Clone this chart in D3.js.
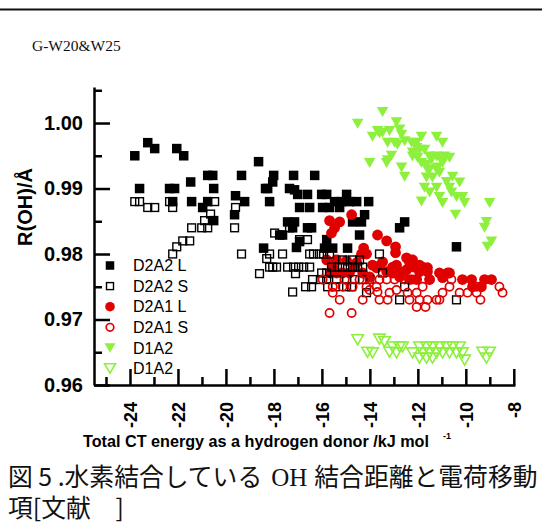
<!DOCTYPE html>
<html>
<head>
<meta charset="utf-8">
<script src="https://cdn.jsdelivr.net/npm/d3@7/dist/d3.min.js"></script>
<style>
  html, body { margin: 0; padding: 0; background: #fff; }
  svg { display: block; }
</style>
</head>
<body>
<svg id="chart" width="542" height="529"></svg>
<script>
// ---- data: [total CT energy (kJ/mol), R(OH) (Å)] ----
const d2a2L = [
  [-23.80,0.9950],[-23.26,0.9970],[-22.97,0.9961],[-22.05,0.9961],[-21.76,0.9950],[-18.64,0.9941],
  [-20.76,0.9920],[-20.55,0.9920],[-19.35,0.9920],[-21.47,0.9910],[-23.60,0.9900],[-22.35,0.9900],
  [-22.14,0.9900],[-20.51,0.9900],[-18.35,0.9900],[-22.22,0.9880],[-21.43,0.9880],[-20.76,0.9880],
  [-19.60,0.9889],[-19.22,0.9880],[-20.97,0.9871],[-19.64,0.9860],[-20.51,0.9851],[-18.43,0.9809],
  [-18.18,0.9880],[-18.01,0.9920],[-17.18,0.9920],[-16.30,0.9920],[-18.05,0.9910],[-18.26,0.9900],
  [-17.35,0.9900],[-17.14,0.9898],[-17.01,0.9891],[-16.60,0.9891],[-16.01,0.9891],[-15.80,0.9891],
  [-14.97,0.9891],[-15.47,0.9880],[-15.18,0.9880],[-14.85,0.9880],[-14.55,0.9880],[-14.05,0.9880],
  [-16.93,0.9871],[-16.51,0.9871],[-15.97,0.9871],[-15.68,0.9871],[-15.26,0.9871],[-14.22,0.9860],
  [-14.72,0.9849],[-14.35,0.9849],[-17.43,0.9849],[-17.14,0.9849],[-16.60,0.9840],[-16.43,0.9840],
  [-12.55,0.9849],[-12.76,0.9840],[-14.43,0.9829],[-17.64,0.9829],[-16.93,0.9819],[-17.06,0.9810],
  [-15.89,0.9809],[-15.55,0.9809],[-14.93,0.9809],[-10.39,0.9811],[-15.80,0.9822],[-17.22,0.9840],
  [-17.76,0.9829]
];
const d2a2S = [
  [-23.80,0.9880],[-23.60,0.9880],[-23.26,0.9871],[-22.97,0.9871],[-22.35,0.9880],[-22.22,0.9871],
  [-20.47,0.9880],[-20.64,0.9861],[-20.89,0.9851],[-21.43,0.9840],[-21.01,0.9840],[-20.76,0.9840],
  [-19.64,0.9840],[-19.60,0.9871],[-21.80,0.9820],[-21.51,0.9820],[-22.05,0.9811],[-22.22,0.9800],
  [-19.35,0.9800],[-18.30,0.9793],[-18.60,0.9770],[-17.97,0.9832],[-17.64,0.9800],[-18.18,0.9800],
  [-18.18,0.9780],[-18.05,0.9780],[-17.89,0.9780],[-17.43,0.9780],[-17.18,0.9780],[-16.97,0.9780],
  [-16.76,0.9780],[-16.51,0.9780],[-17.10,0.9770],[-16.93,0.9822],[-16.60,0.9822],[-16.51,0.9800],
  [-16.35,0.9800],[-16.10,0.9800],[-15.93,0.9800],[-15.68,0.9800],[-17.35,0.9840],[-15.14,0.9791],
  [-14.72,0.9791],[-14.43,0.9791],[-16.39,0.9761],[-16.05,0.9761],[-15.80,0.9761],[-15.39,0.9761],
  [-16.68,0.9750],[-16.43,0.9750],[-17.22,0.9742],[-16.01,0.9771],[-15.80,0.9771],[-15.60,0.9780],
  [-15.35,0.9780],[-15.14,0.9780],[-14.93,0.9780],[-14.72,0.9780],[-14.51,0.9780],[-14.30,0.9780],
  [-13.60,0.9800],[-13.47,0.9771],[-15.76,0.9750],[-15.43,0.9750],[-14.97,0.9750],[-14.76,0.9750],
  [-14.97,0.9761],[-14.64,0.9761],[-14.30,0.9761],[-14.01,0.9761],[-14.14,0.9741],[-12.55,0.9750],
  [-12.76,0.9730],[-10.39,0.9730]
];
const d2a1L = [
  [-14.76,0.9860],[-15.68,0.9851],[-15.26,0.9849],[-15.60,0.9832],[-15.47,0.9840],[-13.68,0.9829],
  [-13.30,0.9820],[-12.93,0.9811],[-14.26,0.9809],[-14.14,0.9800],[-12.47,0.9794],[-12.93,0.9802],
  [-14.35,0.9800],[-13.47,0.9788],[-13.05,0.9780],[-12.35,0.9788],[-15.80,0.9791],[-15.39,0.9791],
  [-14.97,0.9790],[-15.55,0.9780],[-14.64,0.9780],[-13.72,0.9779],[-13.30,0.9773],[-12.76,0.9773],
  [-12.47,0.9776],[-12.14,0.9780],[-11.80,0.9780],[-11.60,0.9779],[-11.51,0.9761],[-11.10,0.9771],
  [-10.76,0.9771],[-10.14,0.9761],[-9.76,0.9761],[-9.35,0.9750],[-9.22,0.9761],[-8.93,0.9761],
  [-10.97,0.9764],[-13.89,0.9783],[-14.55,0.9787],[-13.60,0.9782],[-12.89,0.9783],[-12.22,0.9791],
  [-11.93,0.9783],[-11.93,0.9773],[-11.60,0.9773],[-10.68,0.9771],[-9.72,0.9750],[-15.14,0.9771],
  [-14.85,0.9771],[-14.30,0.9771],[-14.01,0.9765],[-13.05,0.9771],[-12.76,0.9765],[-12.35,0.9761],
  [-12.05,0.9761],[-15.64,0.9771],[-15.39,0.9771]
];
const d2a1S = [
  [-15.55,0.9741],[-15.26,0.9730],[-15.68,0.9710],[-14.76,0.9710],[-14.30,0.9730],[-14.01,0.9745],
  [-13.68,0.9742],[-13.60,0.9730],[-13.26,0.9730],[-12.89,0.9745],[-13.18,0.9741],[-12.97,0.9761],
  [-12.55,0.9761],[-12.22,0.9761],[-12.05,0.9719],[-11.68,0.9719],[-12.35,0.9730],[-11.93,0.9730],
  [-11.60,0.9730],[-11.22,0.9730],[-12.05,0.9741],[-11.80,0.9750],[-10.97,0.9741],[-10.68,0.9750],
  [-10.26,0.9741],[-9.93,0.9741],[-9.55,0.9741],[-9.55,0.9750],[-9.39,0.9730],[-8.60,0.9750],
  [-8.47,0.9741],[-14.01,0.9761],[-13.60,0.9761],[-13.30,0.9761],[-14.43,0.9761],[-14.14,0.9750],
  [-13.72,0.9750],[-15.14,0.9750],[-14.72,0.9750],[-15.05,0.9761],[-15.55,0.9750],[-15.97,0.9761],
  [-12.43,0.9741],[-10.60,0.9761],[-11.51,0.9761],[-11.10,0.9730]
];
const d1a2L = [
  [-13.47,1.0017],[-14.51,0.9999],[-12.89,1.0001],[-13.68,0.9988],[-13.18,0.9988],[-12.76,0.9990],
  [-13.89,0.9979],[-12.68,0.9982],[-12.55,0.9972],[-13.26,0.9970],[-12.97,0.9970],[-12.85,0.9967],
  [-11.85,0.9979],[-11.22,0.9979],[-12.26,0.9970],[-12.05,0.9970],[-10.97,0.9970],[-13.10,0.9950],
  [-14.01,0.9939],[-13.30,0.9939],[-12.68,0.9932],[-12.55,0.9918],[-12.22,0.9955],[-12.01,0.9947],
  [-11.85,0.9939],[-11.64,0.9936],[-11.93,0.9959],[-11.72,0.9959],[-11.51,0.9949],[-11.22,0.9949],
  [-10.89,0.9949],[-10.68,0.9947],[-11.51,0.9929],[-11.22,0.9929],[-10.97,0.9939],[-11.64,0.9917],
  [-11.39,0.9917],[-11.10,0.9924],[-10.55,0.9918],[-10.26,0.9909],[-10.80,0.9910],[-10.68,0.9901],
  [-11.72,0.9901],[-11.51,0.9894],[-11.22,0.9901],[-10.60,0.9894],[-10.39,0.9887],[-11.85,0.9880],
  [-10.97,0.9878],[-10.14,0.9887],[-10.05,0.9878],[-10.43,0.9860],[-9.01,0.9878],[-9.14,0.9849],
  [-9.22,0.9840],[-8.93,0.9819],[-9.10,0.9811],[-11.10,0.9887],[-13.47,0.9985],[-13.60,0.9984],
  [-13.26,0.9943],[-12.05,0.9962],[-11.43,0.9944],[-11.01,0.9944],[-11.18,0.9932],[-12.22,0.9949],
  [-11.60,0.9929]
];
const d1a2S = [
  [-14.51,0.9669],[-13.60,0.9670],[-13.39,0.9666],[-13.89,0.9649],[-14.10,0.9650],[-13.18,0.9650],
  [-13.05,0.9658],[-12.76,0.9658],[-12.64,0.9658],[-12.89,0.9649],[-12.22,0.9649],[-11.93,0.9658],
  [-11.64,0.9658],[-11.39,0.9658],[-11.10,0.9658],[-10.80,0.9658],[-10.55,0.9658],[-10.26,0.9658],
  [-11.93,0.9641],[-11.64,0.9641],[-11.39,0.9641],[-11.80,0.9649],[-11.51,0.9649],[-11.22,0.9649],
  [-10.97,0.9649],[-10.68,0.9649],[-10.39,0.9649],[-10.14,0.9649],[-10.05,0.9638],[-9.30,0.9650],
  [-9.01,0.9650],[-9.14,0.9641]
];

const legendLabels = ["D2A2 L", "D2A2 S", "D2A1 L", "D2A1 S", "D1A2", "D1A2"];
const xMajorTicks = [-24, -22, -20, -18, -16, -14, -12, -10, -8];
const xMinorTicks = [-25, -23, -21, -19, -17, -15, -13, -11, -9];
const yMajorTicks = [0.96, 0.97, 0.98, 0.99, 1.00];
const yMinorTicks = [0.965, 0.975, 0.985, 0.995, 1.005];

const RED = "#e00000";
const GREEN = "#8cf03c";
const SANS = "'Liberation Sans', Arial, Helvetica, sans-serif";
const SERIF = "'Liberation Serif', 'Times New Roman', serif";
const CJK = "'Noto Sans CJK JP', 'Noto Sans CJK SC', sans-serif";

const svg = d3.select("#chart");

// header rule and panel label
svg.append("line").attr("x1", 0).attr("x2", 542).attr("y1", 9.5).attr("y2", 9.5)
  .attr("stroke", "#111").attr("stroke-width", 2);
svg.append("text").attr("x", 32).attr("y", 50.5)
  .style("font-family", SERIF).style("font-size", "15.5px").attr("fill", "#111")
  .text("G-W20&W25");

// scales
const x = d3.scaleLinear().domain([-25.5, -7.95]).range([94, 515]);
const y = d3.scaleLinear().domain([0.96, 1.0055]).range([385, 87]);

// marker shapes
const shapes = {
  fsq: (g, cx, cy, s = 9.5) => g.append("rect").attr("x", cx - s/2).attr("y", cy - s/2)
      .attr("width", s).attr("height", s).attr("fill", "#000"),
  osq: (g, cx, cy, s = 7.8) => g.append("rect").attr("x", cx - s/2).attr("y", cy - s/2)
      .attr("width", s).attr("height", s).attr("fill", "none").attr("stroke", "#000").attr("stroke-width", 1.4),
  fci: (g, cx, cy, r = 5.4) => g.append("circle").attr("cx", cx).attr("cy", cy).attr("r", r).attr("fill", RED),
  oci: (g, cx, cy, r = 4.1) => g.append("circle").attr("cx", cx).attr("cy", cy).attr("r", r)
      .attr("fill", "none").attr("stroke", RED).attr("stroke-width", 1.7),
  ftri: (g, cx, cy, w = 11.5, h = 10) => g.append("path")
      .attr("d", `M${cx - w/2},${cy - h/2}L${cx + w/2},${cy - h/2}L${cx},${cy + h/2}Z`).attr("fill", GREEN),
  otri: (g, cx, cy, w = 11.5, h = 10) => g.append("path")
      .attr("d", `M${cx - w/2},${cy - h/2}L${cx + w/2},${cy - h/2}L${cx},${cy + h/2}Z`)
      .attr("fill", "none").attr("stroke", GREEN).attr("stroke-width", 1.6).attr("stroke-linejoin", "miter")
};

const series = [
  { data: d2a2L, shape: "fsq" },
  { data: d2a1L, shape: "fci" },
  { data: d2a2S, shape: "osq" },
  { data: d2a1S, shape: "oci" },
  { data: d1a2L, shape: "ftri" },
  { data: d1a2S, shape: "otri" }
];

const plot = svg.append("g");
series.forEach(s => {
  const g = plot.append("g");
  s.data.forEach(d => shapes[s.shape](g, x(d[0]), y(d[1])));
});

// axes
const axisStroke = 2.5;
const gx = svg.append("g").attr("transform", "translate(0,385)");
gx.call(d3.axisBottom(x).tickValues(xMajorTicks).tickSizeInner(-16).tickSizeOuter(0).tickFormat(d3.format("d")));
const gxm = svg.append("g").attr("transform", "translate(0,385)");
gxm.call(d3.axisBottom(x).tickValues(xMinorTicks).tickSizeInner(-8).tickSizeOuter(0).tickFormat(""));
gxm.select(".domain").remove();

gx.selectAll(".tick text")
  .attr("transform", "rotate(-90)")
  .attr("x", -17).attr("y", 0).attr("dy", "0.36em")
  .attr("text-anchor", "end")
  .text(d => d3.format("d")(d).replace("−", "-"));

const gy = svg.append("g").attr("transform", "translate(94,0)");
gy.call(d3.axisLeft(y).tickValues(yMajorTicks).tickSizeInner(-16).tickSizeOuter(0).tickPadding(11).tickFormat(d3.format(".2f")));
const gym = svg.append("g").attr("transform", "translate(94,0)");
gym.call(d3.axisLeft(y).tickValues(yMinorTicks).tickSizeInner(-8).tickSizeOuter(0).tickFormat(""));
gym.select(".domain").remove();

[gx, gxm, gy, gym].forEach(g => {
  g.selectAll("path, line").attr("stroke", "#000").attr("stroke-width", axisStroke);
  g.selectAll("text").attr("fill", "#000")
    .style("font-family", SANS).style("font-weight", "bold");
});
gx.selectAll("text").style("font-size", "18px");
gy.selectAll("text").style("font-size", "20px");

// axis titles
svg.append("text")
  .attr("transform", "translate(32,207) rotate(-90)")
  .attr("text-anchor", "middle")
  .style("font-family", SANS).style("font-weight", "bold").style("font-size", "20px")
  .text("R(OH)/Å");

svg.append("text").attr("x", 83).attr("y", 446.5)
  .style("font-family", SANS).style("font-weight", "bold").style("font-size", "16.2px")
  .text("Total CT energy as a hydrogen donor /kJ mol");
svg.append("text").attr("x", 443).attr("y", 439)
  .style("font-family", SANS).style("font-weight", "bold").style("font-size", "9px")
  .text("-1");

// legend
const legendShapes = ["fsq", "osq", "fci", "oci", "ftri", "otri"];
const lg = svg.append("g");
legendLabels.forEach((lab, i) => {
  const ly = 265.5 + i * 20.6;
  const sh = legendShapes[i];
  if (sh === "fsq") shapes.fsq(lg, 110, ly, 8.5);
  else if (sh === "osq") shapes.osq(lg, 110, ly, 7);
  else if (sh === "fci") shapes.fci(lg, 110, ly, 4.8);
  else if (sh === "oci") shapes.oci(lg, 110, ly, 3.8);
  else shapes[sh](lg, 110, ly, 11, 9.5);
  lg.append("text").attr("x", 133).attr("y", ly).attr("dy", "0.36em")
    .style("font-family", SANS).style("font-size", "16px").text(lab);
});

// caption
const cap1 = svg.append("text").attr("x", 8).attr("y", 486)
  .style("font-family", CJK).style("font-size", "24.8px").attr("fill", "#111");
cap1.append("tspan").text("図 5 .水素結合している");
cap1.append("tspan").attr("dx", 9).style("font-family", SERIF).style("font-size", "25px").text("OH");
cap1.append("tspan").attr("dx", 7).text("結合距離と電荷移動");
svg.append("text").attr("x", 8).attr("y", 517)
  .style("font-family", CJK).style("font-size", "24.8px").attr("fill", "#111")
  .text("項[文献　]");
</script>
</body>
</html>
